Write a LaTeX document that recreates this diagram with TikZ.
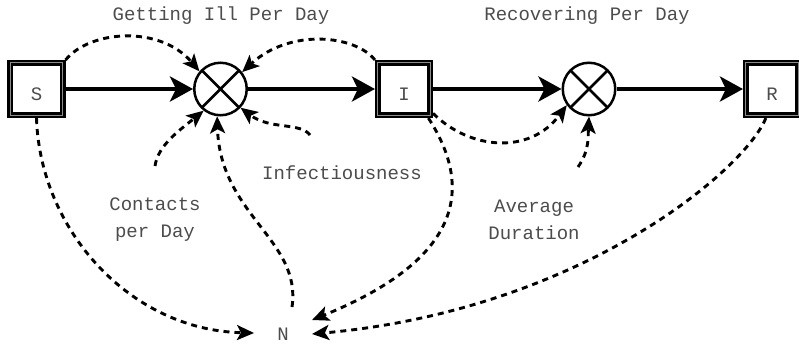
\documentclass[tikz,border=0pt]{standalone}
\usepackage{fontspec}
\setmonofont{Liberation Mono}
\usetikzlibrary{arrows.meta}
\begin{document}
\begin{tikzpicture}[x=1pt,y=-1pt,
  txt/.style={font=\ttfamily\fontsize{19}{27}\selectfont, text=black!70, inner sep=0pt, align=center},
  stock/.style={draw, double=black!45, line width=2.4pt, double distance=1.1pt,
    minimum size=52.2pt, outer sep=2.95pt, inner sep=0pt,
    font=\ttfamily\fontsize{19}{27}\selectfont, text height=22pt, text depth=0pt, text=black!70},
  valve/.style={circle, draw, line width=2.5pt, minimum size=52.5pt, inner sep=0pt, outer sep=1.25pt,
    path picture={\draw[line width=2.5pt]
      (path picture bounding box.north west) -- (path picture bounding box.south east)
      (path picture bounding box.north east) -- (path picture bounding box.south west);}},
  flow/.style={line width=4pt, -{Stealth[length=23pt,width=25pt,inset=6pt]}},
  link/.style={line width=2.9pt, dash pattern=on 6pt off 5pt, -{Stealth[length=17pt,width=15pt,inset=4pt]}}
]
\useasboundingbox (0,0) rectangle (799,345);

% stocks and valves
\node[stock] (S) at (36.5,89) {S};
\node[stock] (I) at (404,89) {I};
\node[stock] (R) at (772,89) {R};
\node[valve] (V1) at (220.5,89) {};
\node[valve] (V2) at (589,89) {};

% labels
\node[txt] (gil) at (221,16) {Getting Ill Per Day};
\node[txt] (rpd) at (587,16) {Recovering Per Day};
\node[txt] (infl) at (342,173) {Infectiousness};
\node[txt] (cpdl) at (155,220) {Contacts\\per Day};
\node[txt] (avdl) at (534,220) {Average\\Duration};
\node[txt] (N) at (283,334) {N};

% free starts
\coordinate (cpd) at (155,166);
\coordinate (inf) at (310,135);
\coordinate (avd) at (578,167);

% flows
\draw[flow] (S.east) -- (V1.west);
\draw[flow] (V1.east) -- (I.west);
\draw[flow] (I.east) -- (V2.west);
\draw[flow] (V2.east) -- (R.west);

% links
\draw[link] (S.north east) .. controls (90,30) and (160,25) .. (V1.140);
\draw[link] (I.north west) .. controls (355,35) and (290,28) .. (V1.38);
\draw[link] (cpd) .. controls (158,145) and (180,130) .. (V1.232);
\draw[link] ([xshift=9pt,yshift=27pt]N.center) .. controls (302,240) and (220,215) .. (V1.263);
\draw[link] (inf) .. controls (300,122) and (270,130) .. (V1.-43);
\draw[link] (S.south) .. controls (40,230) and (130,330) .. ([xshift=-29pt,yshift=1pt]N.center);
\draw[link] (I.-50) .. controls (475,190) and (460,260) .. ([xshift=29pt,yshift=14pt]N.center);
\draw[link] (I.-40) .. controls (470,150) and (530,155) .. (V2.216);
\draw[link] (avd) .. controls (590,150) and (588,135) .. (V2.south);
\draw[link] (R.-102) .. controls (745,170) and (580,310) .. ([xshift=29pt,yshift=0pt]N.center);
\end{tikzpicture}
\end{document}
